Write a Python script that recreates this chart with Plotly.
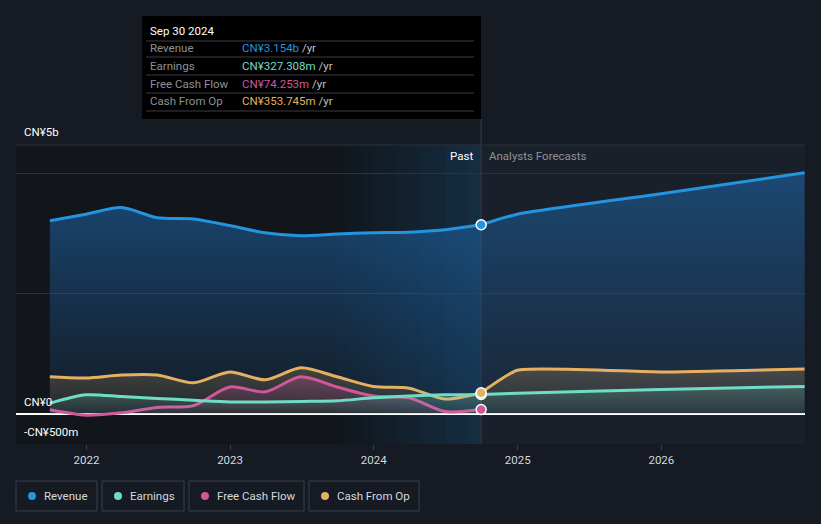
import pandas as pd
import plotly.graph_objects as go

# quarterly history (CN¥ billions), trailing twelve months
past_dates = ["2021-09-30", "2021-12-31", "2022-03-31", "2022-06-30", "2022-09-30",
              "2022-12-31", "2023-03-31", "2023-06-30", "2023-09-30", "2023-12-31",
              "2024-03-31", "2024-06-30", "2024-09-30"]
revenue_past = [3.22, 3.33, 3.44, 3.27, 3.25, 3.14, 3.02, 2.97, 3.00, 3.02, 3.03, 3.07, 3.154]
earnings_past = [0.18, 0.32, 0.29, 0.26, 0.23, 0.20, 0.20, 0.21, 0.22, 0.27, 0.30, 0.32, 0.327]
fcf_past = [0.07, -0.02, 0.02, 0.11, 0.14, 0.45, 0.37, 0.62, 0.45, 0.30, 0.27, 0.04, 0.074]
cfo_past = [0.62, 0.60, 0.65, 0.65, 0.52, 0.70, 0.57, 0.77, 0.62, 0.46, 0.43, 0.25, 0.354]

# analyst forecasts (start from the last reported point)
fc_dates = ["2024-09-30", "2024-12-31", "2025-12-31", "2026-12-31"]
revenue_fc = [3.154, 3.33, 3.67, 4.02]
earnings_fc = [0.327, 0.345, 0.41, 0.46]
cfo_fc = [0.354, 0.73, 0.70, 0.75]

names = ["Revenue", "Earnings", "Free Cash Flow", "Cash From Op"]
colors = {"Revenue": "#2394df", "Earnings": "#6fdcc4", "Free Cash Flow": "#d0579a", "Cash From Op": "#e6b063"}
tip_values = ["CN¥3.154b", "CN¥327.308m", "CN¥74.253m", "CN¥353.745m"]

X0, X1 = "2021-07-06", "2027-01-01"
Y0, Y1 = -0.5, 4.483
L, R, T, B = 16, 16, 145, 80
W, H = 821, 524
pw, ph = W - L - R, H - T - B
FS = 11.5


def px(x):
    return (x - L) / pw


def py(y):
    return (H - B - y) / ph


fig = go.Figure()

fills = {
    "Revenue": dict(type="vertical", colorscale=[[0, "rgba(30,90,150,0.12)"], [1, "rgba(30,105,175,0.55)"]]),
    "Cash From Op": dict(type="vertical", colorscale=[[0, "rgba(230,176,99,0.05)"], [1, "rgba(230,176,99,0.22)"]]),
    "Free Cash Flow": dict(type="vertical", colorscale=[[0, "rgba(208,87,154,0.05)"], [1, "rgba(208,87,154,0.3)"]]),
    "Earnings": dict(type="vertical", colorscale=[[0, "rgba(111,220,196,0.05)"], [1, "rgba(111,220,196,0.2)"]]),
}
series = [
    ("Revenue", revenue_past, past_dates, 0.8),
    ("Revenue", revenue_fc, fc_dates, 0.5),
    ("Cash From Op", cfo_past, past_dates, 0.8),
    ("Cash From Op", cfo_fc, fc_dates, 0.45),
    ("Free Cash Flow", fcf_past, past_dates, 0.8),
    ("Earnings", earnings_past, past_dates, 0.8),
    ("Earnings", earnings_fc, fc_dates, 0.5),
]
for name, vals, dates, sm in series:
    fig.add_trace(go.Scatter(
        x=pd.to_datetime(dates), y=vals, mode="lines", name=name,
        line=dict(color=colors[name], width=3, shape="spline", smoothing=sm),
        fill="tozeroy", fillgradient=fills[name], hoverinfo="skip", showlegend=False,
    ))

# markers at the last reported point
last = {"Revenue": revenue_past[-1], "Earnings": earnings_past[-1],
        "Free Cash Flow": fcf_past[-1], "Cash From Op": cfo_past[-1]}
for name in ["Revenue", "Earnings", "Free Cash Flow", "Cash From Op"]:
    fig.add_trace(go.Scatter(
        x=[pd.Timestamp(past_dates[-1])], y=[last[name]], mode="markers",
        marker=dict(color=colors[name], size=10, line=dict(color="white", width=1.5)),
        hoverinfo="skip", showlegend=False,
    ))

shapes = []
# darker past background
shapes.append(dict(type="rect", xref="x", yref="paper", x0=X0, x1=past_dates[-1], y0=0, y1=1,
                   fillcolor="#121519", line_width=0, layer="below"))
# highlighted last year, approximated gradient
strips = pd.date_range("2023-09-30", "2024-09-30", periods=13)
for i in range(12):
    a = 0.03 + 0.30 * (i / 11)
    shapes.append(dict(type="rect", xref="x", yref="paper", x0=strips[i], x1=strips[i + 1], y0=0, y1=1,
                       fillcolor=f"rgba(25,95,150,{a:.3f})", line_width=0, layer="below"))
# top border line
shapes.append(dict(type="line", xref="paper", yref="paper", x0=0, x1=1, y0=1, y1=1,
                   line=dict(color="#2c333e", width=1)))
# past / forecast divider (inside the plot kept below the traces)
shapes.append(dict(type="line", xref="x", yref="paper", x0=past_dates[-1], x1=past_dates[-1],
                   y0=0, y1=1, line=dict(color="#2a3340", width=1.5), layer="below"))
shapes.append(dict(type="line", xref="x", yref="paper", x0=past_dates[-1], x1=past_dates[-1],
                   y0=1, y1=py(119), line=dict(color="#2a3340", width=1.5)))
# tooltip box
shapes.append(dict(type="rect", xref="paper", yref="paper", x0=px(142), x1=px(481), y0=py(119), y1=py(16),
                   fillcolor="#000000", line_width=0))
for yy in [41, 57, 75, 93, 111]:
    shapes.append(dict(type="line", xref="paper", yref="paper", x0=px(146), x1=px(474), y0=py(yy), y1=py(yy),
                       line=dict(color="#3a3d42", width=1)))

ann = []
ann.append(dict(xref="paper", yref="paper", x=px(148), y=py(31), text="Sep 30 2024", showarrow=False,
                xanchor="left", yanchor="middle", font=dict(color="#ffffff", size=FS)))
for i, (n, v) in enumerate(zip(names, tip_values)):
    yy = [48, 66, 84, 101][i]
    ann.append(dict(xref="paper", yref="paper", x=px(148), y=py(yy), text=n, showarrow=False,
                    xanchor="left", yanchor="middle", font=dict(color="#8d9197", size=FS)))
    ann.append(dict(xref="paper", yref="paper", x=px(240), y=py(yy),
                    text=f"<span style='color:{colors[n]}'>{v}</span> /yr", showarrow=False,
                    xanchor="left", yanchor="middle", font=dict(color="#bfc3c8", size=FS)))

# y labels sit above their gridlines
ann.append(dict(xref="paper", yref="paper", x=px(22), y=py(132), text="CN¥5b", showarrow=False,
                xanchor="left", yanchor="middle", font=dict(color="#ffffff", size=FS)))
ann.append(dict(xref="paper", yref="y", x=px(22), y=0, yshift=12, text="CN¥0", showarrow=False,
                xanchor="left", yanchor="middle", font=dict(color="#ffffff", size=FS)))
ann.append(dict(xref="paper", yref="y", x=px(22), y=-0.5, yshift=12, text="-CN¥500m", showarrow=False,
                xanchor="left", yanchor="middle", font=dict(color="#ffffff", size=FS)))
ann.append(dict(xref="x", yref="paper", x=past_dates[-1], xshift=-6, y=py(156), text="Past", showarrow=False,
                xanchor="right", yanchor="middle", font=dict(color="#ffffff", size=FS)))
ann.append(dict(xref="x", yref="paper", x=past_dates[-1], xshift=6, y=py(156), text="Analysts Forecasts",
                showarrow=False, xanchor="left", yanchor="middle", font=dict(color="#8d9197", size=FS)))

# legend buttons
leg_x = [(16, 97), (102, 184), (189, 304), (309, 419)]
for (a, b), n in zip(leg_x, names):
    shapes.append(dict(type="rect", xref="paper", yref="paper", x0=px(a), x1=px(b), y0=py(511), y1=py(481),
                       fillcolor="rgba(0,0,0,0)", line=dict(color="#3a404a", width=1)))
    shapes.append(dict(type="circle", xref="paper", yref="paper", x0=px(a + 12), x1=px(a + 20),
                       y0=py(500), y1=py(492), fillcolor=colors[n], line_width=0))
    ann.append(dict(xref="paper", yref="paper", x=px(a + 26), y=py(496), text=n, showarrow=False,
                    xanchor="left", yanchor="middle", font=dict(color="#d6d9dd", size=FS)))

fig.update_layout(
    width=W, height=H,
    margin=dict(l=L, r=R, t=T, b=B),
    paper_bgcolor="#151a23", plot_bgcolor="#19202a",
    font=dict(family="Roboto, 'Open Sans', sans-serif", color="#d6d9dd", size=FS),
    shapes=shapes, annotations=ann, showlegend=False,
    xaxis=dict(range=[X0, X1], type="date", tickvals=["2022-01-01", "2023-01-01", "2024-01-01",
                                                       "2025-01-01", "2026-01-01"],
               ticktext=["2022", "2023", "2024", "2025", "2026"], showgrid=False, zeroline=False,
               ticks="outside", ticklen=5, tickcolor="#3a404a", tickfont=dict(color="#d6d9dd", size=FS),
               showline=False),
    yaxis=dict(range=[Y0, Y1], tickvals=[-0.5, 0, 2, 4], showticklabels=False, gridcolor="#2c333e",
               gridwidth=1, zeroline=True, zerolinecolor="#ffffff", zerolinewidth=1.5, fixedrange=True),
)

fig.write_html("out.html", config={"displayModeBar": False},
               post_script="document.body.style.margin='0';document.body.style.background='#151a23';")
